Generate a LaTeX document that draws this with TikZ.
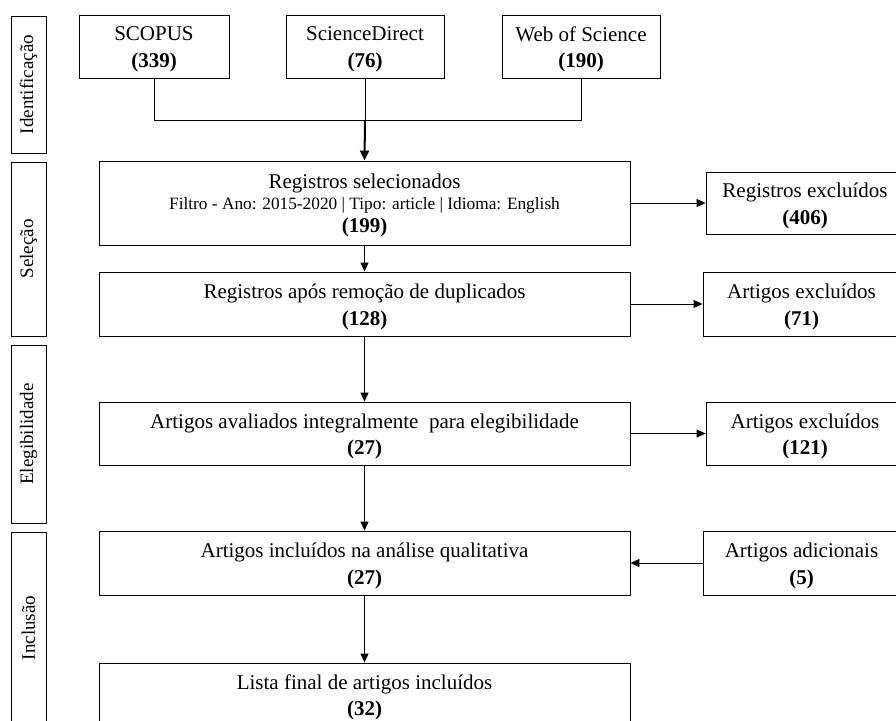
\documentclass[tikz,border=0pt]{standalone}
\usepackage{fontspec}
\setmainfont{Liberation Serif}
\usetikzlibrary{arrows.meta}
\newcommand\bx[5]{%
  \node[frame, minimum width=#3, minimum height=#4] (#1) at #2 {};
  \node[txt] (#1t) at ([yshift=-3pt]#1.center) {#5};}
\begin{document}
\begin{tikzpicture}[x=1pt,y=-1pt,
  frame/.style={draw=black, line width=0.9pt, inner sep=0pt},
  txt/.style={inner sep=0pt, align=center, font=\fontsize{21}{26.5}\selectfont},
  side/.style={draw=black, line width=0.9pt, inner sep=0pt, minimum width=35pt},
  sidetxt/.style={rotate=90, font=\fontsize{19}{22}\selectfont},
  conn/.style={line width=0.9pt},
  arr/.style={line width=0.9pt, -{Triangle[length=9pt,width=8pt]}},
  big/.style={line width=2pt, -{Triangle[length=10pt,width=9pt]}}]
\useasboundingbox (0,0) rectangle (896,720);
% side labels
\node[side, minimum height=137pt] (idn) at (28.5,84.5) {};
\node[sidetxt] (idnt) at (idn.center) {Identificação};
\node[side, minimum height=174pt] (sel) at (28.5,249) {};
\node[sidetxt] (selt) at (sel.center) {Seleção};
\node[side, minimum height=178pt] (ele) at (28.5,434) {};
\node[sidetxt] (elet) at (ele.center) {Elegibilidade};
\node[side, minimum height=192pt] (inc) at (28.5,628) {};
\node[sidetxt] (inct) at (inc.center) {Inclusão};
% top sources
\bx{scopus}{(154,46.5)}{150pt}{63pt}{SCOPUS\\\textbf{(339)}}
\bx{sd}{(365,46.5)}{158pt}{63pt}{ScienceDirect\\\textbf{(76)}}
\bx{wos}{(581,46.5)}{158pt}{63pt}{Web of Science\\\textbf{(190)}}
\coordinate (j) at (365,120);
% main column
\node[frame, minimum width=531pt, minimum height=84pt] (regsel) at (364.5,203) {};
\node[txt] (regselt) at ([yshift=-2pt]regsel.center)
  {Registros selecionados\\[-5.5pt]{\fontsize{17.3}{20}\selectfont Filtro - Ano: 2015-2020 | Tipo: article | Idioma: English}\\[-3.5pt]\textbf{(199)}};
\bx{dup}{(364.5,304)}{531pt}{64pt}{Registros após remoção de duplicados\\\textbf{(128)}}
\bx{aval}{(364.5,433.5)}{531pt}{63pt}{Artigos avaliados integralmente \ para elegibilidade\\\textbf{(27)}}
\bx{incl}{(364.5,563)}{531pt}{64pt}{Artigos incluídos na análise qualitativa\\\textbf{(27)}}
\bx{final}{(364.5,694.5)}{531pt}{63pt}{Lista final de artigos incluídos\\\textbf{(32)}}
% right column
\bx{regexc}{(805,203)}{198pt}{62pt}{Registros excluídos\\\textbf{(406)}}
\bx{exc71}{(801.5,304)}{197pt}{64pt}{Artigos excluídos\\\textbf{(71)}}
\bx{exc121}{(805,433.5)}{198pt}{63pt}{Artigos excluídos\\\textbf{(121)}}
\bx{adic}{(801.5,563)}{197pt}{64pt}{Artigos adicionais\\\textbf{(5)}}
% connectors
\draw[conn] (scopus.south) -- (scopus.south |- j) -- (wos.south |- j) -- (wos.south);
\draw[conn] (sd.south) -- (j);
\draw[big] (j) -- (regsel.north);
\draw[arr] (regsel.east) -- (regexc.west);
\draw[arr] (regsel.south) -- (dup.north);
\draw[arr] (dup.east) -- (exc71.west);
\draw[arr] (dup.south) -- (aval.north);
\draw[arr] (aval.east) -- (exc121.west);
\draw[arr] (aval.south) -- (incl.north);
\draw[arr] (adic.west) -- (incl.east);
\draw[arr] (incl.south) -- (final.north);
\end{tikzpicture}
\end{document}
